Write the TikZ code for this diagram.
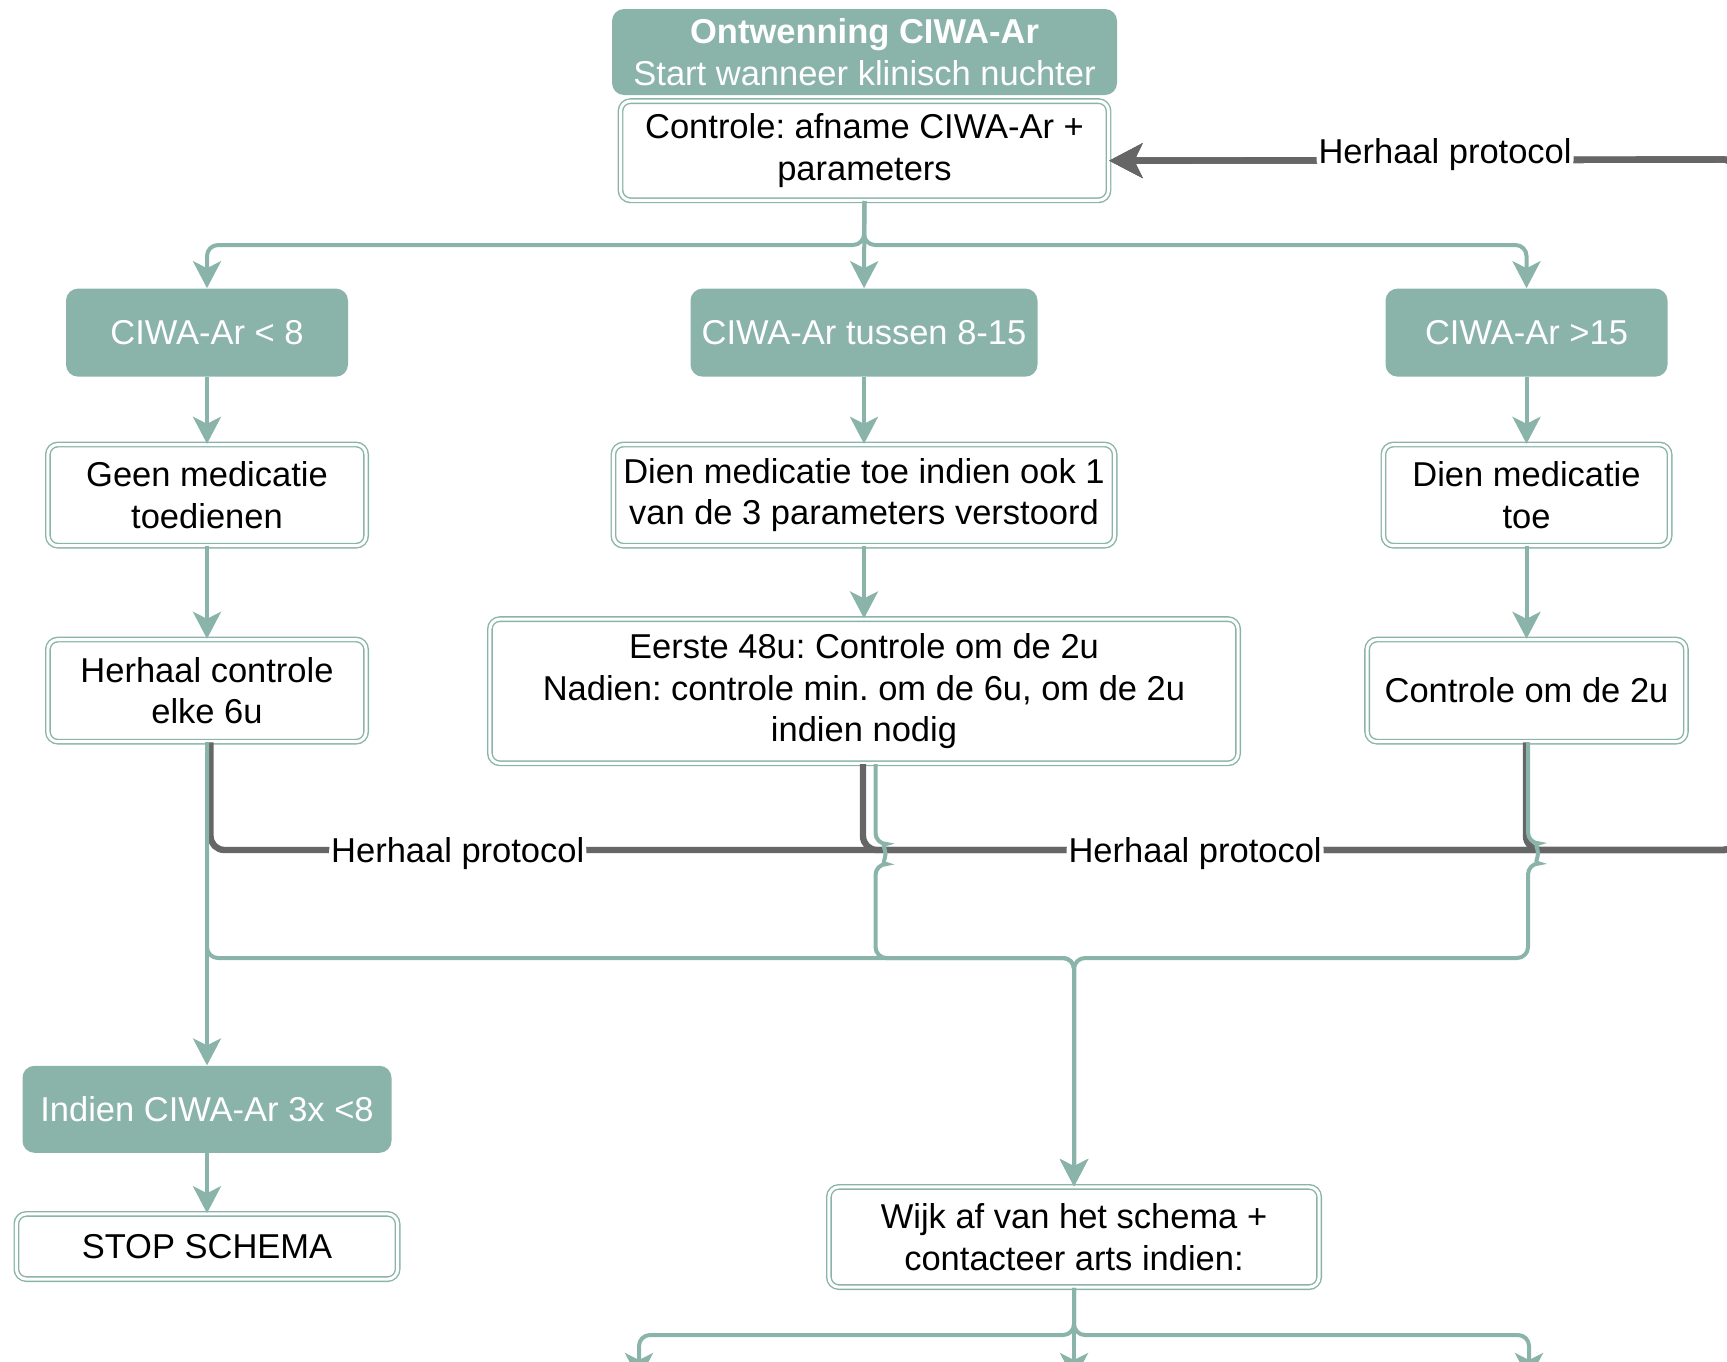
\documentclass[tikz,border=0pt]{standalone}
\usepackage{fontspec}
\setmainfont{Liberation Sans}
\usetikzlibrary{arrows.meta, positioning}
\frenchspacing

\definecolor{sage}{HTML}{8AB4A9}
\definecolor{darkgrey}{HTML}{666666}

\tikzset{
  greenbox/.style={rectangle, rounded corners=6pt, fill=sage, text=white, align=center, inner sep=0pt},
  whitebox/.style={rectangle, rounded corners=5pt, draw=sage, double=white, double distance=1.5pt,
                   line width=0.7pt, fill=white, align=center, inner sep=0pt},
  flow/.style={draw=sage, line width=2pt, rounded corners=5.5pt},
  flowarrow/.style={flow, -{Stealth[length=13.5pt, width=14pt, inset=3.5pt]}},
  back/.style={draw=darkgrey, line width=3.2pt, rounded corners=7pt},
  backarrow/.style={back, -{Stealth[length=16.5pt, width=17pt, inset=4pt]}},
  lbl/.style={fill=white, inner sep=1pt, text=black},
}

\begin{document}
\begin{tikzpicture}[x=0.5pt, y=-0.5pt, font=\fontsize{17.25}{20.7}\selectfont]
    \clip (0,0) rectangle (1727,1361);

    % header
    \node[greenbox, minimum width=252.5pt, minimum height=43pt] (title) at (864.5,52)
        {{\bfseries Ontwenning CIWA-Ar}\\Start wanneer klinisch nuchter};
    \node[whitebox, minimum width=244pt, minimum height=49.6pt, below=2.5pt of title] (ctrl)
        {Controle: afname CIWA-Ar +\\parameters};

    % scores
    \node[greenbox, minimum width=141pt, minimum height=44pt] (lt8) at (207,332.6) {CIWA-Ar < 8};
    \node[greenbox, minimum width=173.5pt, minimum height=44pt] (mid) at (864,332.6) {CIWA-Ar tussen 8-15};
    \node[greenbox, minimum width=141pt, minimum height=44pt] (gt15) at (1526.5,332.6) {CIWA-Ar >15};

    % actions
    \node[whitebox, minimum width=159.1pt, minimum height=50.6pt, below=33.4pt of lt8] (geen)
        {Geen medicatie\\toedienen};
    \node[whitebox, minimum width=250.6pt, minimum height=50.6pt, below=33.4pt of mid] (dienind)
        {Dien medicatie toe indien ook 1\\van de 3 parameters verstoord};
    \node[whitebox, minimum width=143.1pt, minimum height=50.6pt, below=33.4pt of gt15] (dien)
        {Dien medicatie\\toe};

    % follow-up
    \node[whitebox, minimum width=159.1pt, minimum height=51.1pt, below=46.2pt of geen] (herh)
        {Herhaal controle\\elke 6u};
    \node[whitebox, minimum width=374.1pt, minimum height=72.1pt, below=36pt of dienind] (eerste)
        {Eerste 48u: Controle om de 2u\\Nadien: controle min. om de 6u, om de 2u\\indien nodig};
    \node[whitebox, minimum width=159.4pt, minimum height=51.1pt, below=46.2pt of dien] (ctrl2u)
        {Controle om de 2u};

    % end
    \node[greenbox, minimum width=184.5pt, minimum height=43.5pt, below=161.5pt of herh] (indien)
        {Indien CIWA-Ar 3x <8};
    \node[whitebox, minimum width=190.6pt, minimum height=32.6pt, below=30pt of indien] (stop)
        {STOP SCHEMA};
    \node[whitebox, minimum width=245.1pt, minimum height=50.1pt] (wijk) at (1074,1237)
        {Wijk af van het schema +\\contacteer arts indien:};

    \coordinate (split) at (864,245);
    \coordinate (rbot) at (1737,850);
    \coordinate (rtop) at (1737,159.5);
    \coordinate (join) at (1074,958);
    \coordinate (split2) at (1074,1335);
    \coordinate (out1) at (639,1380);
    \coordinate (out2) at (1074,1380);
    \coordinate (out3) at (1529,1380);

    % herhaal protocol
    \draw[backarrow] ([xshift=1.75pt]herh.south) |- node[lbl, pos=0.581, yshift=-2pt] {Herhaal protocol} (rbot)
        -- (rtop) -- ([yshift=-5pt]ctrl.east);
    \draw[backarrow] ([xshift=-0.5pt]eerste.south) |- node[lbl, pos=0.69, yshift=-2pt] {Herhaal protocol} (rbot)
        -- (rtop) -- ([yshift=-5pt]ctrl.east);
    \draw[backarrow] ([xshift=-0.25pt]ctrl2u.south) |- (rbot)
        -- (rtop) -- node[lbl, pos=0.465, yshift=2.5pt] {Herhaal protocol} ([yshift=-5pt]ctrl.east);

    % flow
    \draw[flowarrow] (ctrl.south) -- (split) -| (lt8.north);
    \draw[flowarrow] (ctrl.south) -- (mid.north);
    \draw[flowarrow] (ctrl.south) -- (split) -| (gt15.north);

    \draw[flowarrow] (lt8) -- (geen);
    \draw[flowarrow] (geen) -- (herh);
    \draw[flowarrow] (mid) -- (dienind);
    \draw[flowarrow] (dienind) -- (eerste);
    \draw[flowarrow] (gt15) -- (dien);
    \draw[flowarrow] (dien) -- (ctrl2u);

    \draw[flowarrow] (herh) -- (indien);
    \draw[flowarrow] (indien) -- (stop);

    \draw[flowarrow] (herh.south) |- (join) -- (wijk.north);
    \draw[flowarrow] ([xshift=5.75pt]eerste.south) -- ++(0,80)
        arc[start angle=90, end angle=-90, radius=5pt] |- (join) -- (wijk.north);
    \draw[flowarrow] ([xshift=0.75pt]ctrl2u.south) -- ++(0,101)
        arc[start angle=90, end angle=-90, radius=5pt] |- (join) -- (wijk.north);

    \draw[flowarrow] (wijk.south) -- (split2) -| (out1);
    \draw[flowarrow] (wijk.south) -- (out2);
    \draw[flowarrow] (wijk.south) -- (split2) -| (out3);
\end{tikzpicture}
\end{document}
